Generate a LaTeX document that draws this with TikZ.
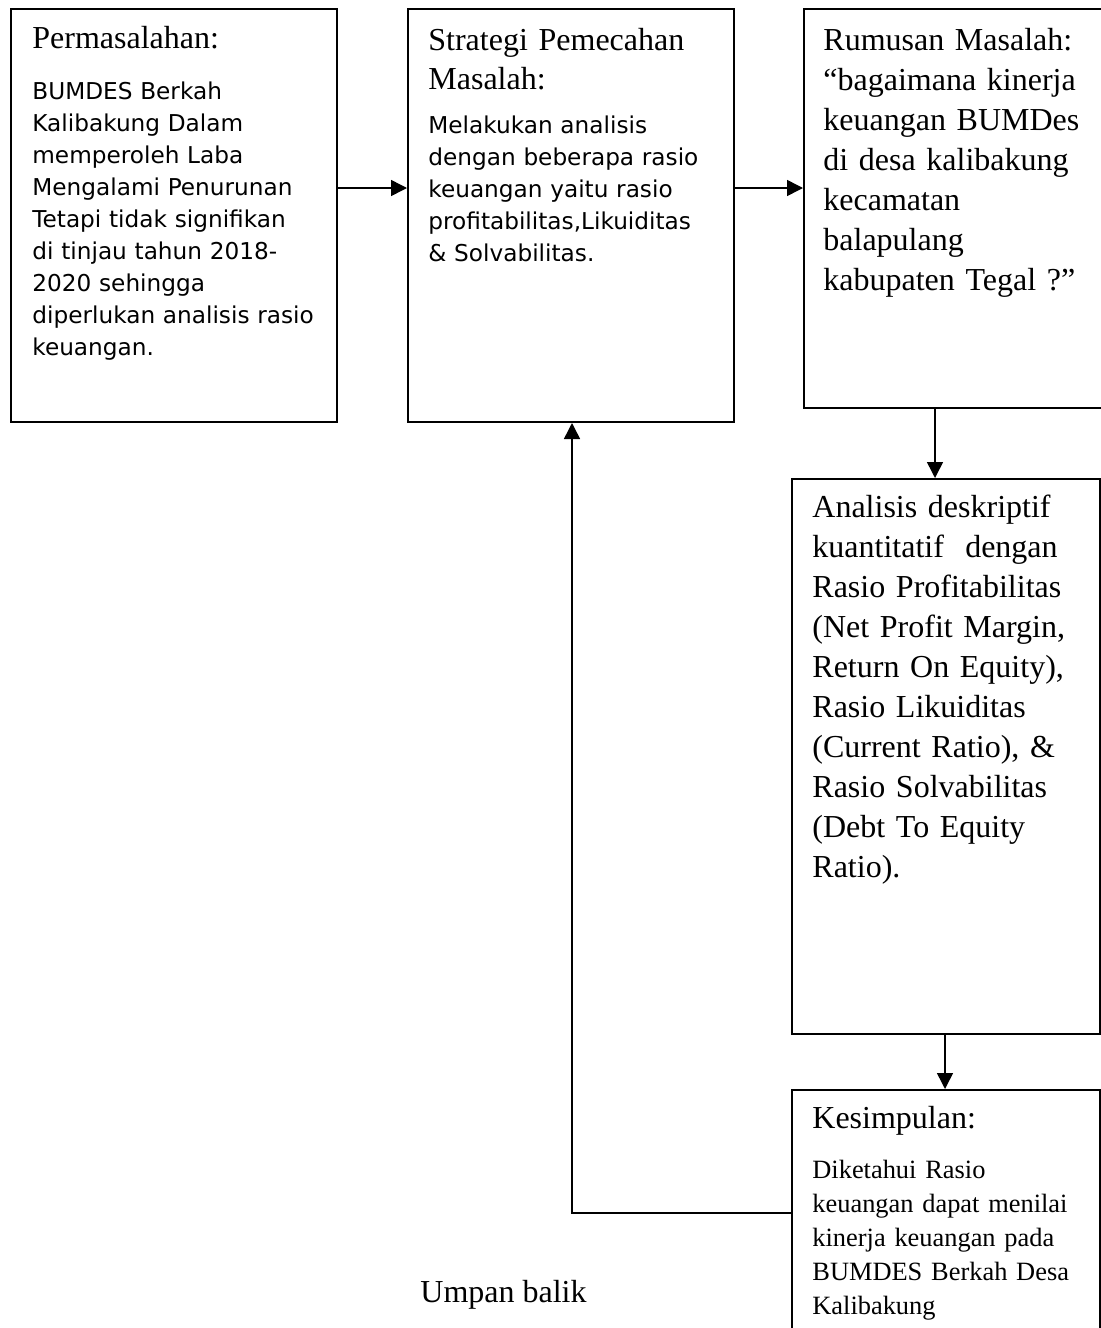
\documentclass[tikz,border=0pt]{standalone}
\usepackage{fontspec}
\setmainfont{Liberation Serif}
\newfontfamily\verd{DejaVu Sans}
\usetikzlibrary{arrows.meta}
\tikzset{
  box/.style={draw, line width=1pt, rectangle, inner sep=0pt, anchor=north west},
  conn/.style={line width=0.75pt},
  arr/.style={conn, -{Triangle[length=8pt,width=8pt]}},
  title/.style={inner sep=0pt, anchor=base west, text width=150pt, align=left, font=\fontsize{16}{19.5}\selectfont},
  body/.style={inner sep=0pt, anchor=base west, text width=160pt, align=left, font=\verd\fontsize{11.6}{16}\selectfont},
  rbody/.style={inner sep=0pt, anchor=base west, text width=160pt, align=left, font=\fontsize{16}{20}\selectfont},
  sbody/.style={inner sep=0pt, anchor=base west, text width=160pt, align=left, font=\fontsize{13.2}{17}\selectfont},
}
\begin{document}
\begin{tikzpicture}[x=0.5pt, y=-0.5pt]
\useasboundingbox (0,0) rectangle (1100,1328);
% boxes
\node[box, minimum width=163pt, minimum height=206.5pt] (b1) at (10,8) {};
\node[box, minimum width=163pt, minimum height=206.5pt] (b2) at (407,8) {};
\node[box, minimum width=160pt, minimum height=199.5pt] (b3) at (803,8) {};
\node[box, minimum width=154pt, minimum height=277.5pt] (b4) at (791,478) {};
\node[box, minimum width=154pt, minimum height=130pt] (b5) at (791,1089) {};
% texts
\node[title] (t1) at (32,48) {Permasalahan:};
\node[body] (x1) at (32,99) {BUMDES Berkah\\Kalibakung Dalam\\memperoleh Laba\\Mengalami Penurunan\\Tetapi tidak signifikan\\di tinjau tahun 2018-\\2020 sehingga\\diperlukan analisis rasio\\keuangan.};
\node[title] (t2) at (428,50) {Strategi Pemecahan\\Masalah:};
\node[body] (x2) at (428,133) {Melakukan analisis\\dengan beberapa rasio\\keuangan yaitu rasio\\profitabilitas,Likuiditas\\\& Solvabilitas.};
\node[rbody] (t3) at (823,50) {Rumusan Masalah:\\``bagaimana kinerja\\keuangan BUMDes\\di desa kalibakung\\kecamatan\\balapulang\\kabupaten Tegal ?''};
\node[rbody] (t4) at (812,517) {Analisis deskriptif\\kuantitatif\ \ dengan\\Rasio Profitabilitas\\(Net Profit Margin,\\Return On Equity),\\Rasio Likuiditas\\(Current Ratio), \&\\Rasio Solvabilitas\\(Debt To Equity\\Ratio).};
\node[title] (t5) at (812,1128) {Kesimpulan:};
\node[sbody] (x5) at (812,1178) {Diketahui Rasio\\keuangan dapat menilai\\kinerja keuangan pada\\BUMDES Berkah Desa\\Kalibakung};
\node[inner sep=0pt, anchor=base west, font=\fontsize{16}{19.5}\selectfont] (ub) at (420,1302) {Umpan balik};
% connectors
\draw[arr] (b1.east |- 0,188) -- (b2.west |- 0,188);
\draw[arr] (b2.east |- 0,188) -- (b3.west |- 0,188);
\draw[arr] (b3.south -| 935,0) -- (b4.north -| 935,0);
\draw[arr] (b4.south -| 945,0) -- (b5.north -| 945,0);
\coordinate (fb) at (572,1213);
\draw[arr] (b5.west |- fb) -- (fb) -- (b2.south -| fb);
\end{tikzpicture}
\end{document}
